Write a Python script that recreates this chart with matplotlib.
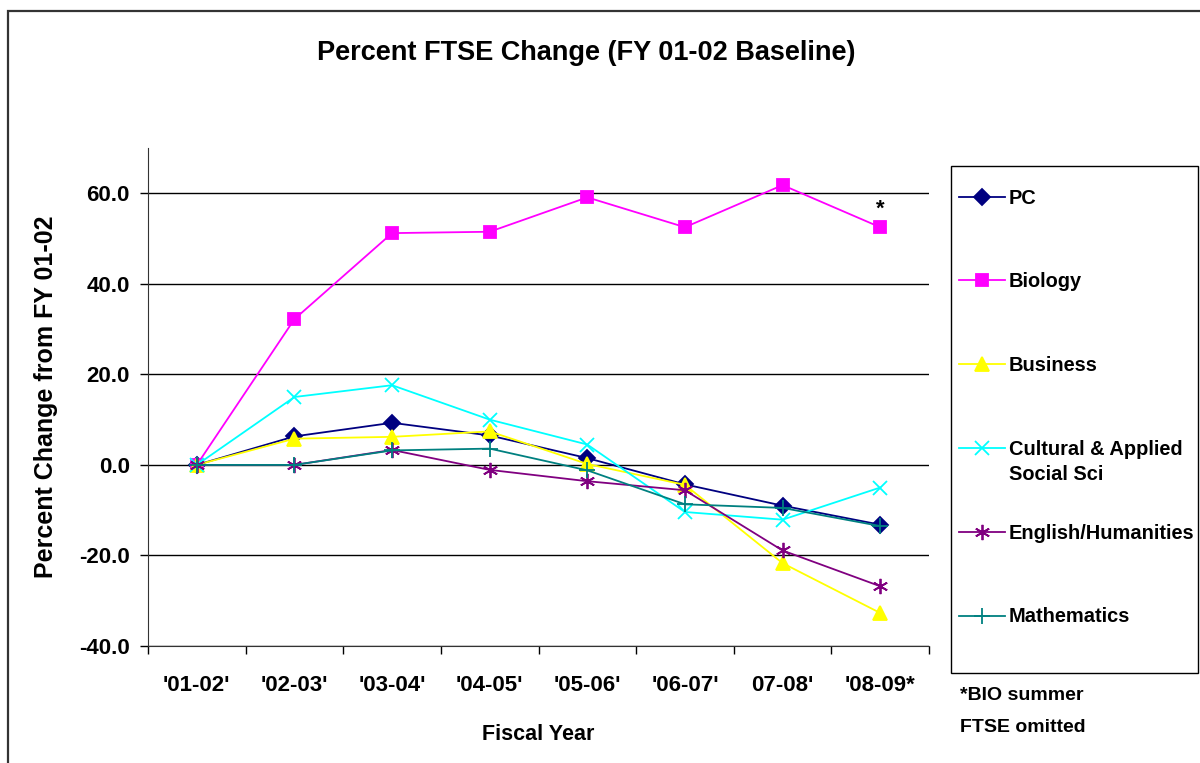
import matplotlib
matplotlib.use("Agg")
import matplotlib.pyplot as plt
from matplotlib.patches import Rectangle
import numpy as np

plt.rcParams['font.family'] = ['Liberation Sans', 'DejaVu Sans']
plt.rcParams['font.weight'] = 'bold'

years = ["'01-02'", "'02-03'", "'03-04'", "'04-05'", "'05-06'", "'06-07'", "07-08'", "'08-09*"]

pc = [0.0, 6.3, 9.3, 6.5, 1.5, -4.3, -9.0, -13.2]
biology = [0.0, 32.2, 51.2, 51.5, 59.1, 52.5, 61.8, 52.5]
business = [0.0, 5.8, 6.2, 7.4, 0.2, -4.4, -21.7, -32.7]
cultural = [0.0, 15.0, 17.6, 10.0, 4.5, -10.4, -12.1, -5.0]
english = [0.0, 0.0, 3.3, -1.1, -3.6, -5.6, -18.9, -26.8]
math = [0.0, 0.0, 3.2, 3.6, -1.2, -8.7, -9.5, -13.5]

series_names = ["PC", "Biology", "Business", "Cultural & Applied",
                "English/Humanities", "Mathematics"]
cultural_second_line = "Social Sci"
series_values = [pc, biology, business, cultural, english, math]
series_colors = ["#000080", "#FF00FF", "#FFFF00", "#00FFFF", "#800080", "#008080"]
series_markers = ["D", "s", "^", "x", (6, 2, 0), "+"]
series_msize = [8, 8, 10, 10, 11, 12]

W, H = 1200, 763
fig = plt.figure(figsize=(W / 100, H / 100), dpi=100)

# outer chart border
fig.patches.append(Rectangle((8 / W, -0.05), 1.2, (H - 11) / H + 0.05,
                             transform=fig.transFigure, fill=False,
                             edgecolor="#333333", linewidth=1.6, clip_on=False))

ax = fig.add_axes([148 / W, (H - 646) / H, 781 / W, (646 - 148) / H])
x = np.arange(len(years))
handles = []
for name, vals, col, mk, ms in zip(series_names, series_values, series_colors,
                                   series_markers, series_msize):
    h, = ax.plot(x, vals, color=col, marker=mk, markersize=ms, linewidth=1.3,
                 markeredgecolor=col, markerfacecolor=col, markeredgewidth=1.3,
                 label=name, zorder=3)
    handles.append(h)

ax.text(x[-1], biology[-1] + 3.9, "*", ha="center", va="center", fontsize=16,
        fontweight="bold")

ax.set_xlim(-0.5, len(years) - 0.5)
ax.set_ylim(-40, 70)
ax.set_yticks([-40, -20, 0, 20, 40, 60])
ax.set_yticklabels([f"{v:.1f}" for v in [-40, -20, 0, 20, 40, 60]])
ax.set_xticks(x)
ax.set_xticklabels(years)
ax.set_xticks(np.arange(-0.5, len(years), 1.0), minor=True)
ax.tick_params(axis="x", which="major", length=0, pad=21, labelsize=16)
ax.tick_params(axis="x", which="minor", length=6, direction="out", width=1)
ax.tick_params(axis="y", length=6, direction="out", width=1, pad=7, labelsize=16)
for s in ["top", "right"]:
    ax.spines[s].set_visible(False)
for s in ["left", "bottom"]:
    ax.spines[s].set_color("#333333")
ax.grid(axis="y", color="black", linewidth=1)
ax.set_axisbelow(True)

ax.set_xlabel("Fiscal Year", fontsize=15.5, fontweight="bold", labelpad=20)
ax.set_ylabel("Percent Change from FY 01-02", fontsize=18, fontweight="bold", labelpad=15)
fig.text(586 / W, 1 - 53 / H, "Percent FTSE Change (FY 01-02 Baseline)", ha="center",
         va="center", fontsize=19.5, fontweight="bold")

# legend box
fig.patches.append(Rectangle((951 / W, 1 - 673 / H), (1198 - 951) / W, (673 - 166) / H,
                             transform=fig.transFigure, fill=False,
                             edgecolor="black", linewidth=1.0))
leg = fig.legend(handles=handles, loc="upper left",
                 bbox_to_anchor=(959 / W, 1 - 188.5 / H), frameon=False,
                 fontsize=14.4, labelspacing=3.24, handlelength=2.3,
                 handletextpad=0.2, borderaxespad=0, borderpad=0)
for t in leg.get_texts():
    t.set_fontweight("bold")
fig.text(1009 / W, 1 - 475 / H, cultural_second_line, ha="left", va="center",
         fontsize=14.4, fontweight="bold")

fig.text(960 / W, 1 - 695 / H, "*BIO summer", ha="left", va="center", fontsize=14,
         fontweight="bold")
fig.text(960 / W, 1 - 727 / H, "FTSE omitted", ha="left", va="center", fontsize=14,
         fontweight="bold")

fig.savefig("out.png", dpi=100)
